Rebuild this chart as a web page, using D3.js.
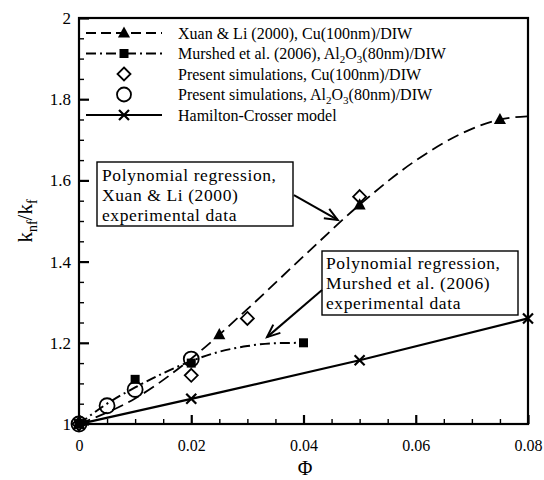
<!DOCTYPE html>
<html>
<head>
<meta charset="utf-8">
<script src="https://cdn.jsdelivr.net/npm/d3@7/dist/d3.min.js"></script>
<style>
  html, body { margin: 0; padding: 0; background: #fff; }
  svg { display: block; font-family: "Liberation Serif", "Times New Roman", serif; }
  svg text { font-family: "Liberation Serif", "Times New Roman", serif; fill: #000; }
</style>
</head>
<body>
<svg id="chart" width="544" height="480"></svg>
<script>
// ---------------- DATA ----------------
// Xuan & Li (2000), Cu(100nm)/DIW - experimental points
const xuanPhi = [0, 0.025, 0.05, 0.075];
const xuanK   = [1.0, 1.22, 1.54, 1.75];
// Polynomial regression of Xuan & Li data
const xuanFitPhi = [0, 0.01, 0.02, 0.03, 0.04, 0.05, 0.06, 0.07, 0.075, 0.08];
const xuanFitK   = [1.0, 1.063, 1.161, 1.283, 1.413, 1.54, 1.649, 1.727, 1.75, 1.758];

// Murshed et al. (2006), Al2O3(80nm)/DIW - experimental points
const murPhi = [0, 0.01, 0.02, 0.04];
const murK   = [1.0, 1.11, 1.15, 1.20];
// Polynomial regression of Murshed data
const murFitPhi = [0, 0.005, 0.01, 0.015, 0.02, 0.025, 0.03, 0.035, 0.04];
const murFitK   = [1.0, 1.05, 1.09, 1.125, 1.155, 1.178, 1.192, 1.199, 1.20];

// Present simulations, Cu(100nm)/DIW
const simCuPhi = [0, 0.02, 0.03, 0.05];
const simCuK   = [1.0, 1.12, 1.26, 1.56];

// Present simulations, Al2O3(80nm)/DIW
const simAlPhi = [0, 0.005, 0.01, 0.02];
const simAlK   = [1.0, 1.045, 1.085, 1.16];

// Hamilton-Crosser model
const hcPhi = [0, 0.02, 0.05, 0.08];
const hcK   = [1.0, 1.062, 1.157, 1.26];

// Axis ticks
const xTicks = [0, 0.02, 0.04, 0.06, 0.08];
const xTickLabels = ["0", "0.02", "0.04", "0.06", "0.08"];
const yTicks = [1, 1.2, 1.4, 1.6, 1.8, 2];
const yTickLabels = ["1", "1.2", "1.4", "1.6", "1.8", "2"];
const xMinorStep = 0.005;
const yMinorStep = 0.05;

// Legend entries (text segments; sub = subscript)
const legendLabels = [
  [{t: "Xuan & Li (2000), Cu(100nm)/DIW"}],
  [{t: "Murshed et al. (2006), Al"}, {t: "2", sub: true}, {t: "O"}, {t: "3", sub: true}, {t: "(80nm)/DIW"}],
  [{t: "Present simulations, Cu(100nm)/DIW"}],
  [{t: "Present simulations, Al"}, {t: "2", sub: true}, {t: "O"}, {t: "3", sub: true}, {t: "(80nm)/DIW"}],
  [{t: "Hamilton-Crosser model"}]
];

const note1Lines = ["Polynomial regression,", "Xuan & Li (2000)", "experimental data"];
const note2Lines = ["Polynomial regression,", "Murshed et al. (2006)", "experimental data"];

// ---------------- LAYOUT ----------------
const svg = d3.select("#chart");
const L = 79, R = 528, T = 18, B = 424;
const x = d3.scaleLinear().domain([0, 0.08]).range([L, R]);
const y = d3.scaleLinear().domain([1, 2]).range([B, T]);

const zip = (a, b) => a.map((v, i) => [v, b[i]]);

// Minor ticks
const xMinor = d3.range(0, 0.08 + 1e-9, xMinorStep).filter(v => !xTicks.some(t => Math.abs(t - v) < 1e-9));
const yMinor = d3.range(1, 2 + 1e-9, yMinorStep).filter(v => !yTicks.some(t => Math.abs(t - v) < 1e-9));

svg.append("g").attr("transform", `translate(0,${B})`)
  .call(d3.axisBottom(x).tickValues(xMinor).tickSize(-5).tickFormat(""))
  .call(g => g.select(".domain").remove())
  .call(g => g.selectAll("line").attr("stroke", "#000").attr("stroke-width", 1.4));
svg.append("g").attr("transform", `translate(${L},0)`)
  .call(d3.axisLeft(y).tickValues(yMinor).tickSize(-5).tickFormat(""))
  .call(g => g.select(".domain").remove())
  .call(g => g.selectAll("line").attr("stroke", "#000").attr("stroke-width", 1.4));

// Major axes
svg.append("g").attr("transform", `translate(0,${B})`)
  .call(d3.axisBottom(x).tickValues(xTicks).tickSize(-9).tickPadding(16)
        .tickFormat((d, i) => xTickLabels[i]))
  .attr("font-family", "Liberation Serif").attr("font-size", 16)
  .call(g => g.select(".domain").remove())
  .call(g => g.selectAll("line").attr("stroke", "#000").attr("stroke-width", 2.2))
  .call(g => g.selectAll("text").attr("fill", "#000"));
svg.append("g").attr("transform", `translate(${L},0)`)
  .call(d3.axisLeft(y).tickValues(yTicks).tickSize(-10).tickPadding(8)
        .tickFormat((d, i) => yTickLabels[i]))
  .attr("font-family", "Liberation Serif").attr("font-size", 17)
  .call(g => g.select(".domain").remove())
  .call(g => g.selectAll("line").attr("stroke", "#000").attr("stroke-width", 2.2))
  .call(g => g.selectAll("text").attr("fill", "#000"));

// Frame
svg.append("rect").attr("x", L).attr("y", T).attr("width", R - L).attr("height", B - T)
  .attr("fill", "none").attr("stroke", "#000").attr("stroke-width", 2.2);

// Axis titles
svg.append("text").attr("x", 305).attr("y", 475).attr("text-anchor", "middle")
  .attr("font-size", 20).text("Φ");
const yt = svg.append("text").attr("transform", `translate(32,${(T + B) / 2}) rotate(-90)`)
  .attr("text-anchor", "middle").attr("font-size", 21);
yt.append("tspan").text("k");
yt.append("tspan").attr("dy", 5).attr("font-size", 14).text("nf");
yt.append("tspan").attr("dy", -5).text("/k");
yt.append("tspan").attr("dy", 5).attr("font-size", 14).text("f");

// ---------------- CURVES ----------------
const line = d3.line().x(d => x(d[0])).y(d => y(d[1])).curve(d3.curveMonotoneX);
const DASH = "12,6";
const DASHDOT = "10,4,2,4";

svg.append("path").datum(zip(xuanFitPhi, xuanFitK)).attr("d", line)
  .attr("fill", "none").attr("stroke", "#000").attr("stroke-width", 1.8).attr("stroke-dasharray", DASH);
svg.append("path").datum(zip(murFitPhi, murFitK)).attr("d", line)
  .attr("fill", "none").attr("stroke", "#000").attr("stroke-width", 2).attr("stroke-dasharray", DASHDOT);
svg.append("path").datum(zip(hcPhi, hcK)).attr("d", line)
  .attr("fill", "none").attr("stroke", "#000").attr("stroke-width", 2.2);

// ---------------- MARKERS ----------------
function triangle(g, cx, cy, s) {
  g.append("path").attr("d", `M${cx},${cy - s * 0.6}L${cx + s * 0.55},${cy + s * 0.42}L${cx - s * 0.55},${cy + s * 0.42}Z`)
    .attr("fill", "#000");
}
function square(g, cx, cy, s) {
  g.append("rect").attr("x", cx - s / 2).attr("y", cy - s / 2).attr("width", s).attr("height", s).attr("fill", "#000");
}
function diamond(g, cx, cy, s) {
  g.append("path").attr("d", `M${cx},${cy - s / 2}L${cx + s / 2},${cy}L${cx},${cy + s / 2}L${cx - s / 2},${cy}Z`)
    .attr("fill", "none").attr("stroke", "#000").attr("stroke-width", 1.8);
}
function circle(g, cx, cy, r) {
  g.append("circle").attr("cx", cx).attr("cy", cy).attr("r", r)
    .attr("fill", "none").attr("stroke", "#000").attr("stroke-width", 1.8);
}
function cross(g, cx, cy, s) {
  const h = s / 2;
  g.append("path").attr("d", `M${cx - h},${cy - h}L${cx + h},${cy + h}M${cx - h},${cy + h}L${cx + h},${cy - h}`)
    .attr("stroke", "#000").attr("stroke-width", 2.2).attr("fill", "none");
}

const mk = svg.append("g");
zip(simCuPhi, simCuK).forEach(d => diamond(mk, x(d[0]), y(d[1]), 13));
zip(simAlPhi, simAlK).forEach(d => circle(mk, x(d[0]), y(d[1]), 7.5));
zip(hcPhi, hcK).forEach(d => cross(mk, x(d[0]), y(d[1]), 10));
zip(xuanPhi, xuanK).forEach(d => triangle(mk, x(d[0]), y(d[1]), 11));
zip(murPhi, murK).forEach(d => square(mk, x(d[0]), y(d[1]), 9));

// ---------------- LEGEND ----------------
const legY0 = 33, legDY = 20.5, legX1 = 86, legX2 = 162, legSym = 124, legText = 178;
const lg = svg.append("g");
legendLabels.forEach((segs, i) => {
  const cy = legY0 + i * legDY;
  if (i === 0) {
    lg.append("line").attr("x1", legX1).attr("x2", legX2).attr("y1", cy).attr("y2", cy)
      .attr("stroke", "#000").attr("stroke-width", 1.8).attr("stroke-dasharray", "10,5");
    triangle(lg, legSym, cy, 11);
  } else if (i === 1) {
    lg.append("line").attr("x1", legX1).attr("x2", legX2).attr("y1", cy).attr("y2", cy)
      .attr("stroke", "#000").attr("stroke-width", 2).attr("stroke-dasharray", DASHDOT);
    square(lg, legSym, cy, 9);
  } else if (i === 2) {
    diamond(lg, legSym, cy, 13);
  } else if (i === 3) {
    circle(lg, legSym, cy, 7);
  } else {
    lg.append("line").attr("x1", legX1).attr("x2", legX2).attr("y1", cy).attr("y2", cy)
      .attr("stroke", "#000").attr("stroke-width", 2.2);
    cross(lg, legSym, cy, 10);
  }
  const t = lg.append("text").attr("x", legText).attr("y", cy + 5.5).attr("font-size", 16);
  let shifted = false;
  segs.forEach(s => {
    const ts = t.append("tspan").text(s.t);
    if (s.sub && !shifted) { ts.attr("dy", 4).attr("font-size", 11); shifted = true; }
    else if (!s.sub && shifted) { ts.attr("dy", -4); shifted = false; }
    else if (s.sub) { ts.attr("font-size", 11); }
  });
});

// ---------------- ANNOTATIONS ----------------
function note(lines, bx, by, bw, bh, tx, ty0, lh) {
  svg.append("rect").attr("x", bx).attr("y", by).attr("width", bw).attr("height", bh)
    .attr("fill", "#fff").attr("stroke", "#000").attr("stroke-width", 1.4);
  lines.forEach((s, i) => {
    svg.append("text").attr("x", tx).attr("y", ty0 + i * lh)
      .attr("font-size", 17.5).attr("letter-spacing", 0.6).text(s);
  });
}
function arrow(x1, y1, x2, y2) {
  svg.append("line").attr("x1", x1).attr("y1", y1).attr("x2", x2).attr("y2", y2)
    .attr("stroke", "#000").attr("stroke-width", 2);
  const a = Math.atan2(y2 - y1, x2 - x1), len = 14, sp = 0.4;
  const p1 = [x2 - len * Math.cos(a - sp), y2 - len * Math.sin(a - sp)];
  const p2 = [x2 - len * Math.cos(a + sp), y2 - len * Math.sin(a + sp)];
  svg.append("path").attr("d", `M${p1[0]},${p1[1]}L${x2},${y2}L${p2[0]},${p2[1]}`)
    .attr("fill", "none").attr("stroke", "#000").attr("stroke-width", 2);
}

note(note1Lines, 97, 162, 196, 64, 102, 181, 20.2);
arrow(x(0.0383), y(1.564), x(0.0461), y(1.5025));
note(note2Lines, 322, 251, 196, 64, 326, 269, 20.2);
arrow(x(0.0433), y(1.330), x(0.0335), y(1.214));
</script>
</body>
</html>
